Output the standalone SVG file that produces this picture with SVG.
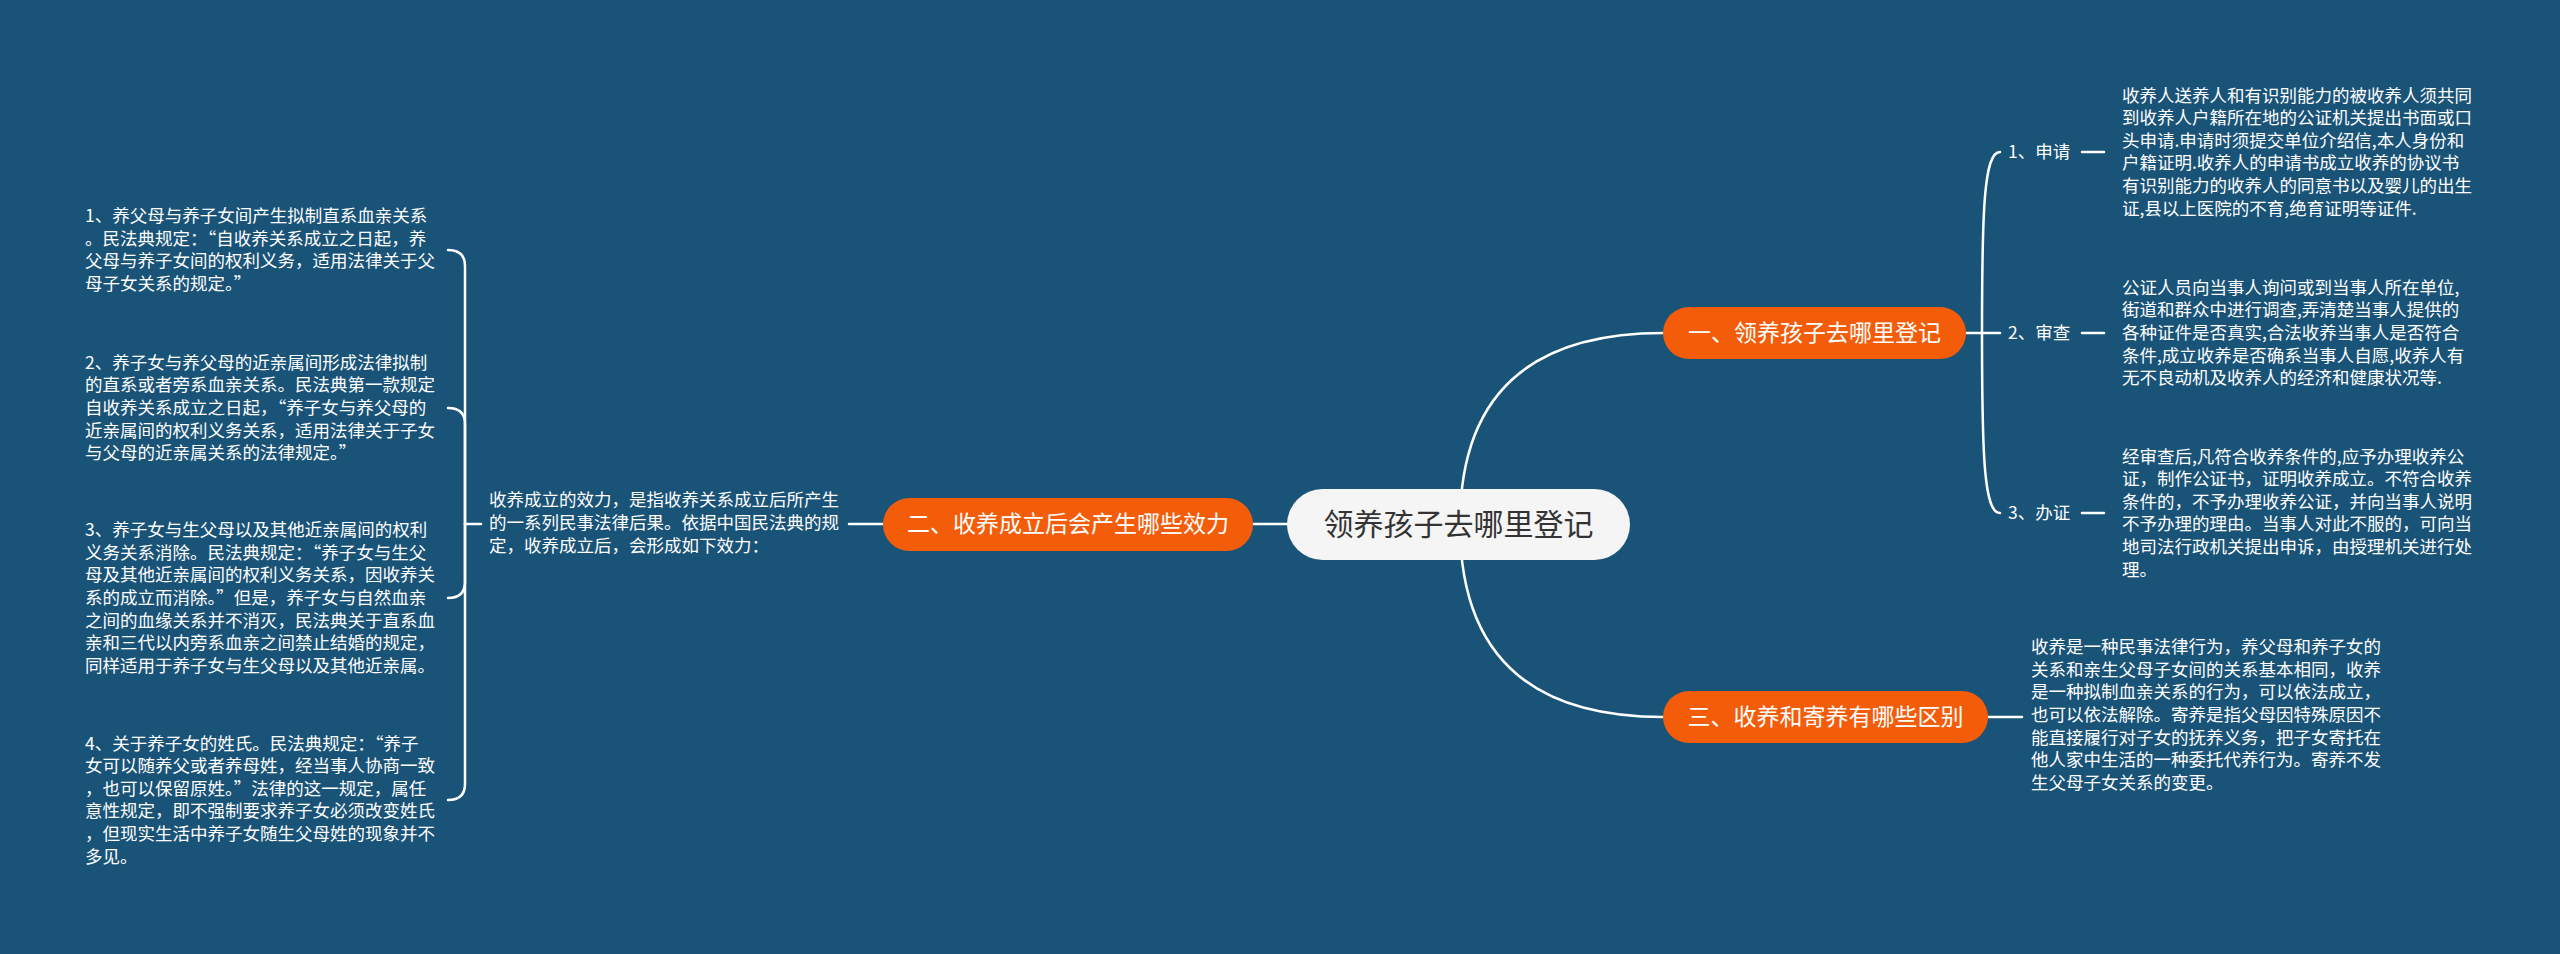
<svg xmlns="http://www.w3.org/2000/svg" width="2560" height="954" viewBox="0 0 2560 954">
<style>
.bg{fill:#1a5378}
.ln{fill:none;stroke:#ffffff;stroke-width:2.5;stroke-linecap:round}
.t{font-family:"Noto Sans CJK SC","Noto Sans",sans-serif;font-size:17.5px;fill:#ffffff}
.main{fill:#f5f5f5}
.mt{font-family:"Noto Sans CJK SC","Noto Sans",sans-serif;font-size:30px;fill:#333333;text-anchor:middle}
.org{fill:#f35d0a}
.ot{font-family:"Noto Sans CJK SC","Noto Sans",sans-serif;font-size:23px;fill:#ffffff;text-anchor:middle}
</style>
<rect class="bg" x="0" y="0" width="2560" height="954"/>
<g id="connectors">
<path class="ln" d="M1460,524 Q1460,333 1663,333"/>
<path class="ln" d="M1460,524 Q1460,717 1663,717"/>
<path class="ln" d="M1253,524 L1287,524"/>
<path class="ln" d="M1966,333 L2000,333"/>
<path class="ln" d="M1982,333 C1982,210 1984,152 2000,152"/>
<path class="ln" d="M1982,333 C1982,456 1984,513 2000,513"/>
<path class="ln" d="M2082,152 L2104,152"/>
<path class="ln" d="M2082,333 L2104,333"/>
<path class="ln" d="M2082,513 L2104,513"/>
<path class="ln" d="M1988,717 L2022,717"/>
<path class="ln" d="M849,524 L883,524"/>
<path class="ln" d="M465,524 L481,524"/>
<path class="ln" d="M465,524 L465,266 Q465,250 448,250"/>
<path class="ln" d="M465,524 L465,424 Q465,408 448,408"/>
<path class="ln" d="M465,524 L465,582 Q465,598 448,598"/>
<path class="ln" d="M465,524 L465,784 Q465,800 448,800"/>
</g>
<g id="center">
<rect class="main" x="1287" y="489" width="343" height="71" rx="35.5"/>
<text class="mt" x="1458.5" y="535">领养孩子去哪里登记</text>
</g>
<g id="n1">
<rect class="org" x="1663" y="307" width="303" height="52" rx="26"/>
<text class="ot" x="1814.5" y="341">一、领养孩子去哪里登记</text>
</g>
<g id="n1a">
<text class="t" x="2008" y="158">1、申请</text>
</g>
<g id="n1a-text">
<text class="t" x="2122" y="102">收养人送养人和有识别能力的被收养人须共同</text>
<text class="t" x="2122" y="124">到收养人户籍所在地的公证机关提出书面或口</text>
<text class="t" x="2122" y="147">头申请.申请时须提交单位介绍信,本人身份和</text>
<text class="t" x="2122" y="169">户籍证明.收养人的申请书成立收养的协议书</text>
<text class="t" x="2122" y="192">有识别能力的收养人的同意书以及婴儿的出生</text>
<text class="t" x="2122" y="215">证,县以上医院的不育,绝育证明等证件.</text>
</g>
<g id="n1b">
<text class="t" x="2008" y="339">2、审查</text>
</g>
<g id="n1b-text">
<text class="t" x="2122" y="294">公证人员向当事人询问或到当事人所在单位,</text>
<text class="t" x="2122" y="316">街道和群众中进行调查,弄清楚当事人提供的</text>
<text class="t" x="2122" y="339">各种证件是否真实,合法收养当事人是否符合</text>
<text class="t" x="2122" y="362">条件,成立收养是否确系当事人自愿,收养人有</text>
<text class="t" x="2122" y="384">无不良动机及收养人的经济和健康状况等.</text>
</g>
<g id="n1c">
<text class="t" x="2008" y="519">3、办证</text>
</g>
<g id="n1c-text">
<text class="t" x="2122" y="463">经审查后,凡符合收养条件的,应予办理收养公</text>
<text class="t" x="2122" y="485">证，制作公证书，证明收养成立。不符合收养</text>
<text class="t" x="2122" y="508">条件的，不予办理收养公证，并向当事人说明</text>
<text class="t" x="2122" y="530">不予办理的理由。当事人对此不服的，可向当</text>
<text class="t" x="2122" y="553">地司法行政机关提出申诉，由授理机关进行处</text>
<text class="t" x="2122" y="576">理。</text>
</g>
<g id="n3">
<rect class="org" x="1663" y="691" width="325" height="52" rx="26"/>
<text class="ot" x="1825.5" y="725">三、收养和寄养有哪些区别</text>
</g>
<g id="n3-text">
<text class="t" x="2031" y="653">收养是一种民事法律行为，养父母和养子女的</text>
<text class="t" x="2031" y="676">关系和亲生父母子女间的关系基本相同，收养</text>
<text class="t" x="2031" y="698">是一种拟制血亲关系的行为，可以依法成立，</text>
<text class="t" x="2031" y="721">也可以依法解除。寄养是指父母因特殊原因不</text>
<text class="t" x="2031" y="744">能直接履行对子女的抚养义务，把子女寄托在</text>
<text class="t" x="2031" y="766">他人家中生活的一种委托代养行为。寄养不发</text>
<text class="t" x="2031" y="789">生父母子女关系的变更。</text>
</g>
<g id="n2">
<rect class="org" x="883" y="498" width="370" height="53" rx="26.5"/>
<text class="ot" x="1068" y="532">二、收养成立后会产生哪些效力</text>
</g>
<g id="n2-text">
<text class="t" x="489" y="506">收养成立的效力，是指收养关系成立后所产生</text>
<text class="t" x="489" y="529">的一系列民事法律后果。依据中国民法典的规</text>
<text class="t" x="489" y="552">定，收养成立后，会形成如下效力：</text>
</g>
<g id="n2a">
<text class="t" x="85" y="222">1、养父母与养子女间产生拟制直系血亲关系</text>
<text class="t" x="85" y="245">。民法典规定：“自收养关系成立之日起，养</text>
<text class="t" x="85" y="267">父母与养子女间的权利义务，适用法律关于父</text>
<text class="t" x="85" y="290">母子女关系的规定。”</text>
</g>
<g id="n2b">
<text class="t" x="85" y="369">2、养子女与养父母的近亲属间形成法律拟制</text>
<text class="t" x="85" y="391">的直系或者旁系血亲关系。民法典第一款规定</text>
<text class="t" x="85" y="414">自收养关系成立之日起，“养子女与养父母的</text>
<text class="t" x="85" y="437">近亲属间的权利义务关系，适用法律关于子女</text>
<text class="t" x="85" y="459">与父母的近亲属关系的法律规定。”</text>
</g>
<g id="n2c">
<text class="t" x="85" y="536">3、养子女与生父母以及其他近亲属间的权利</text>
<text class="t" x="85" y="559">义务关系消除。民法典规定：“养子女与生父</text>
<text class="t" x="85" y="581">母及其他近亲属间的权利义务关系，因收养关</text>
<text class="t" x="85" y="604">系的成立而消除。”但是，养子女与自然血亲</text>
<text class="t" x="85" y="627">之间的血缘关系并不消灭，民法典关于直系血</text>
<text class="t" x="85" y="649">亲和三代以内旁系血亲之间禁止结婚的规定，</text>
<text class="t" x="85" y="672">同样适用于养子女与生父母以及其他近亲属。</text>
</g>
<g id="n2d">
<text class="t" x="85" y="750">4、关于养子女的姓氏。民法典规定：“养子</text>
<text class="t" x="85" y="772">女可以随养父或者养母姓，经当事人协商一致</text>
<text class="t" x="85" y="795">，也可以保留原姓。”法律的这一规定，属任</text>
<text class="t" x="85" y="817">意性规定，即不强制要求养子女必须改变姓氏</text>
<text class="t" x="85" y="840">，但现实生活中养子女随生父母姓的现象并不</text>
<text class="t" x="85" y="863">多见。</text>
</g>
</svg>
